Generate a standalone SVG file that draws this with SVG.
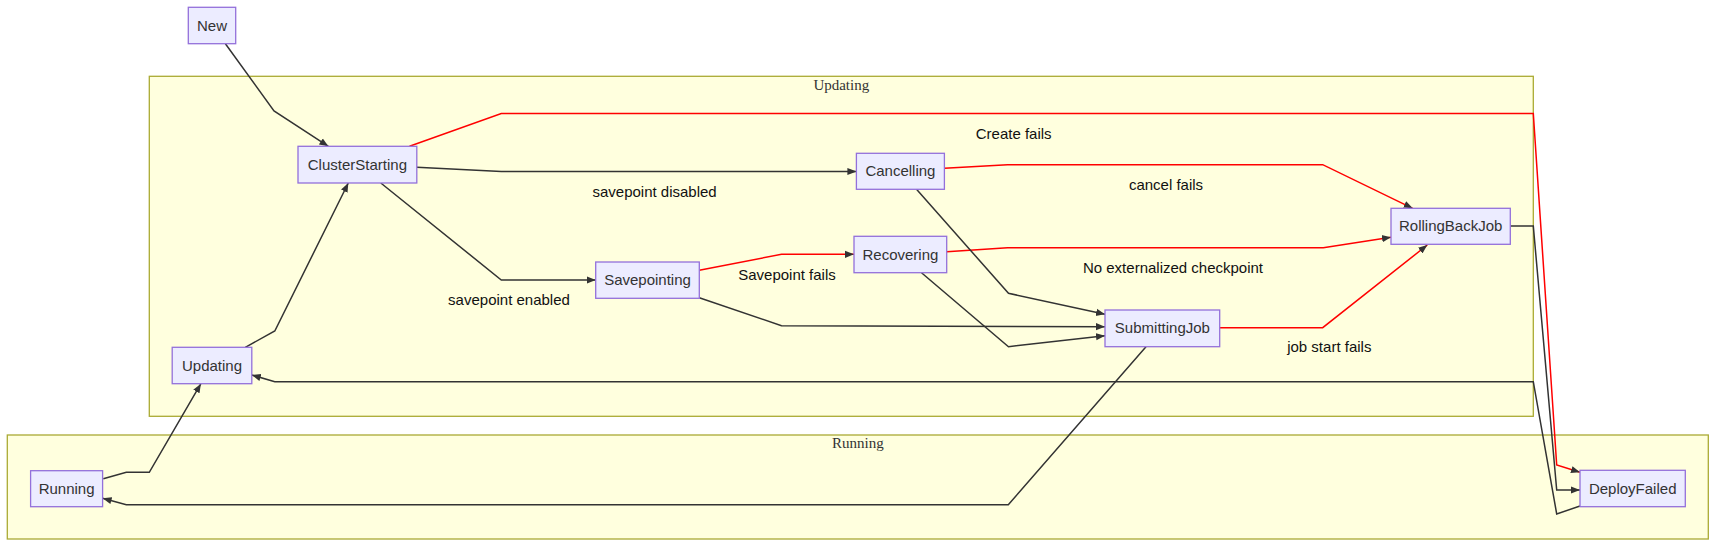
<svg xmlns="http://www.w3.org/2000/svg" width="1716" height="547" viewBox="0 0 1716 547">
<defs>
<style>
.cluster{fill:#ffffde;stroke:#aaaa33;stroke-width:1.3}
.ctitle{font-family:"Liberation Serif",serif;font-size:15px;fill:#333;text-anchor:middle}
.node rect{fill:#ECECFF;stroke:#9370DB;stroke-width:1.3}
.node text{font-family:"Liberation Sans",Arial,sans-serif;font-size:15px;fill:#333;text-anchor:middle}
.e{fill:none;stroke:#333;stroke-width:1.5;marker-end:url(#arr)}
.r{stroke:#ff0000}
.lbl{font-family:"Liberation Sans",Arial,sans-serif;font-size:15px;fill:#111;text-anchor:middle}
</style>
<marker id="arr" viewBox="0 0 10 10" refX="10" refY="5" markerWidth="9" markerHeight="9" markerUnits="userSpaceOnUse" orient="auto">
<path d="M0,1 L10,5 L0,9 z" fill="#333"/>
</marker>
</defs>
<rect width="1716" height="547" fill="#ffffff"/>
<g id="cluster-Updating">
<rect class="cluster" x="149.3" y="76.3" width="1384" height="340"/>
<text class="ctitle" x="841.3" y="89.5">Updating</text>
</g>
<g id="cluster-Running">
<rect class="cluster" x="7.3" y="435" width="1701" height="104"/>
<text class="ctitle" x="857.8" y="448">Running</text>
</g>
<g id="connectors">
<path class="e" d="M225.4,43.7 L274,111 L328.4,146.3"/>
<path class="e r" d="M409.5,146.3 L501.3,113.5 L1533.3,113.5 L1556.7,465 L1580,472.3"/>
<path class="e" d="M416.8,167.3 L501.3,171.5 L856.4,171.5"/>
<path class="e" d="M380.8,183 L501.3,280 L595.7,280"/>
<path class="e r" d="M944.4,168.3 L1007.6,164.7 L1322.7,164.7 L1412.7,208.3"/>
<path class="e r" d="M699.3,270.3 L781.5,254.3 L854,254.3"/>
<path class="e r" d="M946.7,251.7 L1007.6,247.7 L1323.3,247.7 L1391,237.3"/>
<path class="e" d="M916.5,189.3 L1008.5,293.3 L1105,314.3"/>
<path class="e" d="M699.3,297.7 L781.5,325.7 L1105,326.7"/>
<path class="e" d="M921.5,272.7 L1008.5,346.7 L1105,335.7"/>
<path class="e r" d="M1219.7,327.7 L1322.7,327.7 L1427.3,245"/>
<path class="e" d="M1510.3,226 L1533.3,226 L1556.7,490 L1580,490"/>
<path class="e" d="M1580,506 L1556.7,514 L1533.3,381.7 L274.8,381.7 L251.8,375"/>
<path class="e" d="M245.3,347.3 L274.8,331 L348.3,183"/>
<path class="e" d="M103.3,478.7 L126.3,472.3 L149.3,472.3 L200.9,383.7"/>
<path class="e" d="M1146,346.7 L1008.3,504.7 L126.3,504.7 L102.6,498.3"/>
<text class="lbl" x="1013.7" y="138.7">Create fails</text>
<text class="lbl" x="654.6" y="197">savepoint disabled</text>
<text class="lbl" x="509" y="305">savepoint enabled</text>
<text class="lbl" x="787" y="280">Savepoint fails</text>
<text class="lbl" x="1166" y="190">cancel fails</text>
<text class="lbl" x="1173" y="273">No externalized checkpoint</text>
<text class="lbl" x="1329.3" y="352.3">job start fails</text>
</g>
<g id="node-New" class="node"><rect x="188.3" y="7.3" width="47.4" height="36.4"/><text x="212" y="30.5">New</text></g>
<g id="node-ClusterStarting" class="node"><rect x="298" y="146.3" width="118.8" height="36.7"/><text x="357.4" y="169.7">ClusterStarting</text></g>
<g id="node-Cancelling" class="node"><rect x="856.4" y="153.3" width="88" height="36"/><text x="900.4" y="176.3">Cancelling</text></g>
<g id="node-Savepointing" class="node"><rect x="595.7" y="262" width="103.6" height="36.3"/><text x="647.5" y="285.2">Savepointing</text></g>
<g id="node-Recovering" class="node"><rect x="854" y="236.3" width="92.7" height="36.4"/><text x="900.4" y="259.5">Recovering</text></g>
<g id="node-SubmittingJob" class="node"><rect x="1105" y="310" width="114.7" height="36.7"/><text x="1162.4" y="333.4">SubmittingJob</text></g>
<g id="node-RollingBackJob" class="node"><rect x="1391" y="208.3" width="119.3" height="36"/><text x="1450.7" y="231.3">RollingBackJob</text></g>
<g id="node-Updating" class="node"><rect x="172.2" y="347.3" width="79.6" height="36.4"/><text x="212" y="370.5">Updating</text></g>
<g id="node-Running" class="node"><rect x="30.6" y="470.7" width="72" height="36"/><text x="66.6" y="493.7">Running</text></g>
<g id="node-DeployFailed" class="node"><rect x="1580" y="470.3" width="105.3" height="36.4"/><text x="1632.7" y="493.5">DeployFailed</text></g>
</svg>
